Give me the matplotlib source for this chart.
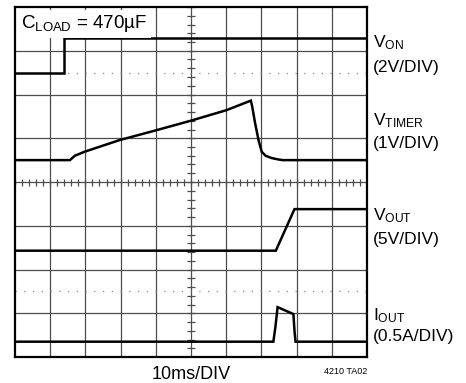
import numpy as np
import matplotlib.pyplot as plt

plt.rcParams['font.family'] = ['Liberation Sans', 'DejaVu Sans']
plt.rcParams['mathtext.fontset'] = 'custom'
plt.rcParams['mathtext.rm'] = 'Liberation Sans'
plt.rcParams['mathtext.it'] = 'Liberation Sans'

# scope traces, in screen divisions (10 x 8)
von_t = [0.0, 1.39, 1.39, 1.45, 10.0]
von_v = [6.5, 6.5, 7.30, 7.30, 7.30]

timer_t = [0.0, 1.56, 1.70, 1.97, 2.98, 4.0, 4.99, 6.0, 6.70, 6.74, 6.82, 6.92, 7.01, 7.12, 7.28, 7.45, 7.60, 10.0]
timer_v = [4.5, 4.5, 4.60, 4.69, 4.96, 5.18, 5.40, 5.64, 5.86, 5.72, 5.35, 4.95, 4.69, 4.60, 4.55, 4.52, 4.5, 4.5]

vout_t = [0.0, 7.41, 7.94, 10.0]
vout_v = [2.43, 2.43, 3.38, 3.38]

iout_t = [0.0, 7.34, 7.40, 7.46, 7.91, 7.94, 7.97, 10.0]
iout_v = [0.35, 0.35, 0.70, 1.14, 0.98, 0.60, 0.35, 0.35]

labels = [('V$_{\\mathrm{ON}}$', '(2V/DIV)', 47, 72),
          ('V$_{\\mathrm{TIMER}}$', '(1V/DIV)', 125, 148),
          ('V$_{\\mathrm{OUT}}$', '(5V/DIV)', 220, 244),
          ('I$_{\\mathrm{OUT}}$', '(0.5A/DIV)', 320, 341)]

W, H = 466, 383
fig = plt.figure(figsize=(W / 100, H / 100), dpi=100)
ax = fig.add_axes([15 / W, (H - 357) / H, 352 / W, 350 / H])
ax.set_xlim(0, 10)
ax.set_ylim(0, 8)
ax.set_xticks([])
ax.set_yticks([])
for s in ax.spines.values():
    s.set_linewidth(1.6)
    s.set_color('black')

# graticule
gcol = '#4d4d4d'
ax.vlines(np.arange(1, 10), 0, 8, color=gcol, lw=0.9, zorder=1)
ax.hlines(np.arange(1, 8), 0, 10, color=gcol, lw=0.9, zorder=1)
ax.hlines([1.5, 6.5], 0, 10, color='#888888', lw=0.9, linestyles=(0, (1, 6)), zorder=1)
mx = np.arange(0, 10.01, 0.2)
my = np.arange(0, 8.01, 0.2)
ax.vlines(mx, 4 - 0.08, 4 + 0.08, color=gcol, lw=0.9, zorder=1)
ax.hlines(my, 5 - 0.1, 5 + 0.1, color=gcol, lw=0.9, zorder=1)

for t, v in [(von_t, von_v), (timer_t, timer_v), (vout_t, vout_v), (iout_t, iout_v)]:
    ax.plot(t, v, color='black', lw=1.8, zorder=3, solid_joinstyle='miter')

fig.text(21 / W, 1 - 28.5 / H, 'C$_{\\mathrm{LOAD}}$ = 470µF', fontsize=13.5,
         va='baseline', ha='left', zorder=5,
         bbox=dict(facecolor='white', edgecolor='none', pad=2.5))

for main, scale, y1, y2 in labels:
    fig.text(373 / W, 1 - y1 / H, main, fontsize=12.5, va='baseline', ha='left')
    fig.text(373 / W, 1 - y2 / H, scale, fontsize=12.5, va='baseline', ha='left')

fig.text(191 / W, 1 - 379 / H, '10ms/DIV', fontsize=13, va='baseline', ha='center')
fig.text(367 / W, 1 - 373.5 / H, '4210 TA02', fontsize=6.5, va='baseline', ha='right')

fig.savefig('out.png', dpi=100)
